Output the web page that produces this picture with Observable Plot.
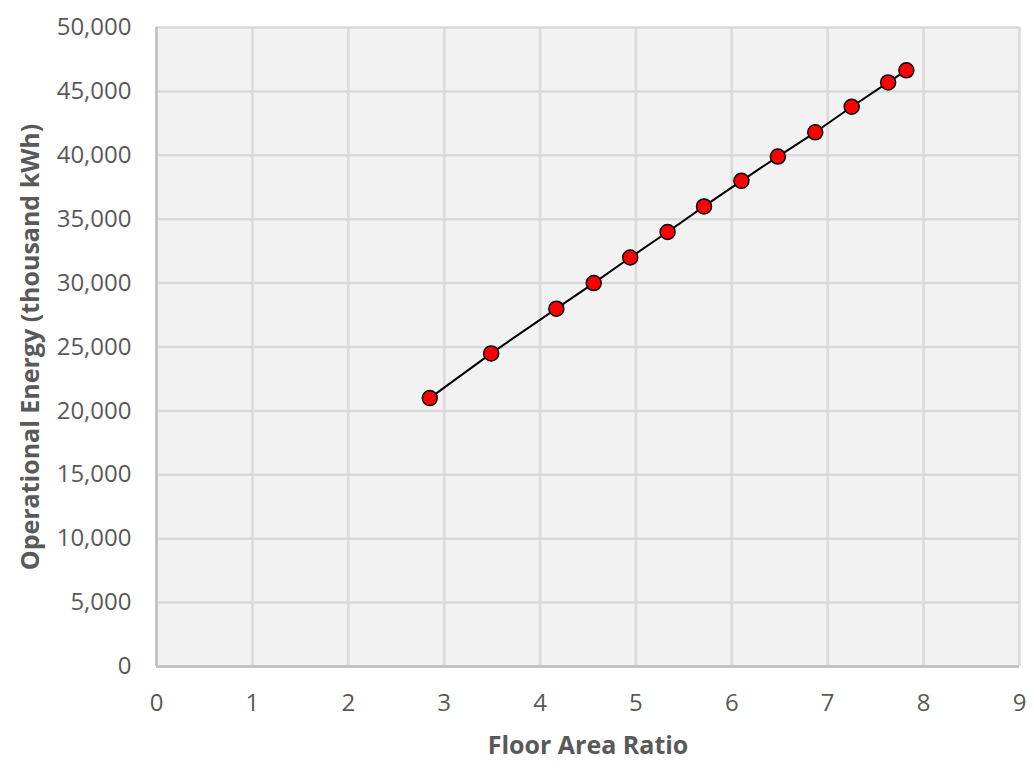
<!DOCTYPE html>
<html>
<head>
<meta charset="utf-8">
<script src="https://cdn.jsdelivr.net/npm/d3@7"></script>
<script src="https://cdn.jsdelivr.net/npm/@observablehq/plot@0.6"></script>
<style>
  html, body { margin: 0; padding: 0; background: #fff; }
  #chart svg { display: block; }
</style>
</head>
<body>
<div id="chart"></div>
<script>
const floorAreaRatio = [2.85, 3.49, 4.17, 4.56, 4.94, 5.33, 5.71, 6.10, 6.48, 6.87, 7.25, 7.63, 7.82];
const operationalEnergy = [21000, 24500, 28000, 30000, 32000, 34000, 36000, 38000, 39900, 41800, 43800, 45700, 46650];
const xTicks = [0, 1, 2, 3, 4, 5, 6, 7, 8, 9];
const yTicks = [0, 5000, 10000, 15000, 20000, 25000, 30000, 35000, 40000, 45000, 50000];
const xTitle = "Floor Area Ratio";
const yTitle = "Operational Energy (thousand kWh)";

const data = floorAreaRatio.map((x, i) => ({x, y: operationalEnergy[i]}));
const fmt = d3.format(",");

const chart = Plot.plot({
  width: 1034,
  height: 771,
  marginLeft: 156,
  marginRight: 15,
  marginTop: 27,
  marginBottom: 105,
  style: {fontFamily: "'Open Sans', sans-serif", background: "#fff"},
  x: {domain: [0, 9], ticks: xTicks},
  y: {domain: [0, 50000], ticks: yTicks},
  marks: [
    Plot.frame({fill: "#f2f2f2", stroke: null}),
    Plot.gridX(xTicks, {stroke: "#d9d9d9", strokeWidth: 2.5, strokeOpacity: 1}),
    Plot.gridY(yTicks, {stroke: "#d9d9d9", strokeWidth: 2.5, strokeOpacity: 1}),
    Plot.ruleX([0], {stroke: "#bfbfbf", strokeWidth: 2.5}),
    Plot.ruleY([0], {stroke: "#bfbfbf", strokeWidth: 2.5}),
    Plot.axisX(xTicks, {tickSize: 0, tickPadding: 27, fontSize: 24, fill: "#595959", label: null}),
    Plot.axisY(yTicks, {tickSize: 0, tickPadding: 25, fontSize: 24, fill: "#595959", label: null, tickFormat: fmt}),
    Plot.line(data, {x: "x", y: "y", stroke: "#000", strokeWidth: 2}),
    Plot.dot(data, {x: "x", y: "y", r: 7.5, fill: "#ff0000", stroke: "#000", strokeWidth: 1.5}),
    Plot.text([xTitle], {frameAnchor: "bottom", dy: 87, fontSize: 25, fontWeight: "bold", fill: "#595959", textAnchor: "middle"}),
    Plot.text([yTitle], {frameAnchor: "left", dx: -126, rotate: -90, fontSize: 25, fontWeight: "bold", fill: "#595959", textAnchor: "middle"})
  ]
});
document.getElementById("chart").appendChild(chart);
</script>
</body>
</html>
